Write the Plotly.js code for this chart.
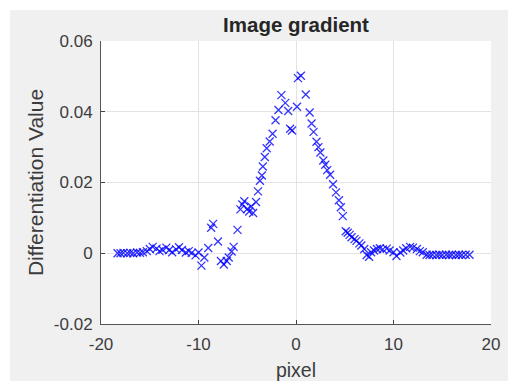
<!DOCTYPE html>
<html>
<head>
<meta charset="utf-8">
<script src="https://cdn.plot.ly/plotly-3.0.1.min.js"></script>
<style>
  html, body { margin: 0; padding: 0; background: #ffffff; }
  #chart { position: absolute; left: 10px; top: 10px; width: 498px; height: 371px; }
</style>
</head>
<body>
<div id="chart"></div>
<script>
// Pixel offsets from the edge profile
const pixel = [
  -18.3, -18.0, -17.7, -17.3, -17.0, -16.7, -16.3, -16.0, -15.7, -15.3,
  -15.0, -14.7, -14.3, -14.0, -13.7, -13.3, -13.0, -12.7, -12.3, -12.0,
  -11.7, -11.3, -11.0, -10.7, -10.3, -10.0, -9.7, -9.4, -9.0, -8.7,
  -8.5, -8.0, -7.7, -7.4, -7.1, -6.9, -6.6, -6.4, -6.0, -5.7,
  -5.5, -5.3, -5.0, -4.8, -4.6, -4.4, -4.1, -3.9, -3.7, -3.5,
  -3.4, -3.2, -3.0, -2.7, -2.4, -2.1, -1.8, -1.5, -1.1, -0.8,
  -0.6, -0.4, 0.1, 0.2, 0.5, 1.0, 1.4, 1.6, 1.8, 2.1,
  2.3, 2.5, 2.8, 3.0, 3.2, 3.5, 3.8, 4.1, 4.4, 4.6,
  4.8, 5.1, 5.3, 5.5, 5.7, 6.0, 6.2, 6.5, 6.7, 7.0,
  7.25, 7.5, 7.7, 8.0, 8.3, 8.6, 8.9, 9.3, 9.6, 10.0,
  10.3, 10.7, 11.0, 11.3, 11.7, 12.0, 12.4, 12.7, 13.0, 13.4,
  13.7, 14.0, 14.4, 14.7, 15.0, 15.4, 15.7, 16.0, 16.4, 16.7,
  17.0, 17.4, 17.8
];

// Differentiation value at each pixel offset
const gradient = [
  0.0000, 0.0000, 0.0001, 0.0000, 0.0001, 0.0000, 0.0002, 0.0001, 0.0003, 0.0006,
  0.0012, 0.0018, 0.0013, 0.0006, 0.0010, 0.0016, 0.0009, 0.0003, 0.0011, 0.0017,
  0.0009, 0.0002, 0.0006, 0.0001, -0.0006, 0.0002, -0.0035, -0.0012, 0.0015, 0.0072,
  0.0083, 0.0033, -0.0022, -0.0032, -0.0022, -0.0012, 0.0005, 0.0018, 0.0066, 0.0124,
  0.0138, 0.0147, 0.0125, 0.0118, 0.0132, 0.0114, 0.0145, 0.0175, 0.0205, 0.0220,
  0.0245, 0.0272, 0.0297, 0.0316, 0.0338, 0.0376, 0.0405, 0.0447, 0.0425, 0.0402,
  0.0352, 0.0347, 0.0414, 0.0495, 0.0502, 0.0449, 0.0398, 0.0367, 0.0343, 0.0315,
  0.0300, 0.0285, 0.0262, 0.0250, 0.0235, 0.0222, 0.0195, 0.0172, 0.0150, 0.0130,
  0.0105, 0.0062, 0.0058, 0.0052, 0.0045, 0.0040, 0.0035, 0.0028, 0.0022, 0.0012,
  -0.0005, -0.0010, 0.0003, 0.0008, 0.0012, 0.0014, 0.0011, 0.0013, 0.0008, 0.0003,
  -0.0008, 0.0002, 0.0008, 0.0014, 0.0018, 0.0016, 0.0012, 0.0006, 0.0003, -0.0004,
  -0.0005, -0.0004, -0.0005, -0.0004, -0.0005, -0.0004, -0.0005, -0.0004, -0.0005, -0.0004,
  -0.0005, -0.0004, -0.0004
];

const xTicks = [-20, -10, 0, 10, 20];
const xTickText = ['-20', '-10', '0', '10', '20'];
const yTicks = [-0.02, 0, 0.02, 0.04, 0.06];
const yTickText = ['-0.02', '0', '0.02', '0.04', '0.06'];

const FONT = 'Liberation Sans, Arial, sans-serif';
const INK = '#3c3c3c';

const trace = {
  x: pixel,
  y: gradient,
  type: 'scatter',
  mode: 'markers',
  marker: {
    symbol: 'x-thin',
    size: 8,
    color: 'rgb(0,0,255)',
    line: { color: 'rgba(0,0,255,0.8)', width: 1.3 }
  },
  hoverinfo: 'x+y'
};

const layout = {
  width: 498,
  height: 371,
  paper_bgcolor: '#f0f0f0',
  plot_bgcolor: '#ffffff',
  margin: { l: 91, r: 17, t: 31, b: 57 },
  showlegend: false,
  font: { family: FONT, color: INK, size: 17 },
  title: {
    text: '<b>Image gradient</b>',
    font: { family: FONT, size: 20.5, color: '#262626' },
    xref: 'paper', x: 0.5, xanchor: 'center',
    yref: 'container', y: 1 - 15 / 371, yanchor: 'middle'
  },
  xaxis: {
    range: [-20, 20],
    tickvals: xTicks,
    ticktext: xTickText,
    ticks: 'inside',
    ticklen: 4,
    tickcolor: '#444444',
    ticklabelstandoff: 5,
    showline: true,
    linecolor: '#555555',
    linewidth: 1,
    showgrid: true,
    gridcolor: '#e3e3e3',
    zeroline: false,
    tickfont: { family: FONT, size: 17, color: INK },
    title: { text: 'pixel', font: { family: FONT, size: 19.5, color: INK }, standoff: 12 }
  },
  yaxis: {
    range: [-0.02, 0.06],
    tickvals: yTicks,
    ticktext: yTickText,
    ticks: 'inside',
    ticklen: 4,
    tickcolor: '#444444',
    ticklabelstandoff: 4,
    showline: true,
    linecolor: '#555555',
    linewidth: 1,
    showgrid: true,
    gridcolor: '#e3e3e3',
    zeroline: false,
    tickfont: { family: FONT, size: 17, color: INK },
    title: { text: 'Differentiation Value', font: { family: FONT, size: 21, color: INK }, standoff: 4 }
  }
};

Plotly.newPlot('chart', [trace], layout, { displayModeBar: false, staticPlot: true });
</script>
</body>
</html>
